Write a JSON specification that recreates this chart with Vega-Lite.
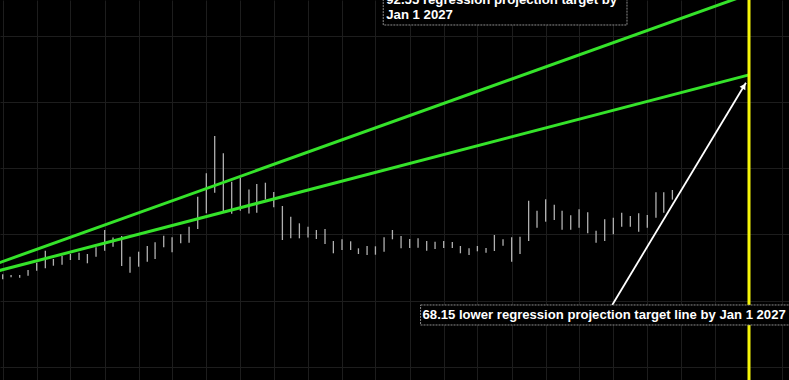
{
  "$schema": "https://vega.github.io/schema/vega-lite/v6.json",
  "width": 789,
  "height": 380,
  "padding": 0,
  "autosize": {"type": "none"},
  "background": "#000000",
  "config": {
    "view": {"stroke": null, "fill": "#000000"},
    "axis": {"labels": false, "ticks": false, "domain": false, "grid": true, "gridColor": "#1d1d1d", "gridWidth": 1, "gridOpacity": 1}
  },
  "datasets": {
    "bars": [
      {"date": "2019-09-01", "low": 6.43, "high": 7.94},
      {"date": "2019-10-01", "low": 7.03, "high": 7.72},
      {"date": "2019-11-01", "low": 6.91, "high": 7.72},
      {"date": "2019-12-01", "low": 7.51, "high": 9.23},
      {"date": "2020-01-01", "low": 9.02, "high": 11.44},
      {"date": "2020-02-01", "low": 9.75, "high": 15.06},
      {"date": "2020-03-01", "low": 10.53, "high": 12.55},
      {"date": "2020-04-01", "low": 10.83, "high": 13.46},
      {"date": "2020-05-01", "low": 12.25, "high": 14.06},
      {"date": "2020-06-01", "low": 12.25, "high": 14.46},
      {"date": "2020-07-01", "low": 11.26, "high": 14.06},
      {"date": "2020-08-01", "low": 13.25, "high": 16.08},
      {"date": "2020-09-01", "low": 15.06, "high": 21.31},
      {"date": "2020-10-01", "low": 16.27, "high": 19.05},
      {"date": "2020-11-01", "low": 10.44, "high": 19.5},
      {"date": "2020-12-01", "low": 8.42, "high": 13.25},
      {"date": "2021-01-01", "low": 10.23, "high": 14.76},
      {"date": "2021-02-01", "low": 11.74, "high": 16.48},
      {"date": "2021-03-01", "low": 12.55, "high": 17.6},
      {"date": "2021-04-01", "low": 16.08, "high": 19.59},
      {"date": "2021-05-01", "low": 14.58, "high": 19.11},
      {"date": "2021-06-01", "low": 17.29, "high": 20.01},
      {"date": "2021-07-01", "low": 17.48, "high": 22.31},
      {"date": "2021-08-01", "low": 21.61, "high": 31.37},
      {"date": "2021-09-01", "low": 26.35, "high": 38.43},
      {"date": "2021-10-01", "low": 32.57, "high": 49.69},
      {"date": "2021-11-01", "low": 26.83, "high": 44.47},
      {"date": "2021-12-01", "low": 26.23, "high": 35.89},
      {"date": "2022-01-01", "low": 27.11, "high": 37.07},
      {"date": "2022-02-01", "low": 26.26, "high": 33.51},
      {"date": "2022-03-01", "low": 26.53, "high": 35.2},
      {"date": "2022-04-01", "low": 30.49, "high": 35.59},
      {"date": "2022-05-01", "low": 28.17, "high": 32.78},
      {"date": "2022-06-01", "low": 18.29, "high": 28.56},
      {"date": "2022-07-01", "low": 18.8, "high": 25.32},
      {"date": "2022-08-01", "low": 18.8, "high": 23.33},
      {"date": "2022-09-01", "low": 19.05, "high": 22.31},
      {"date": "2022-10-01", "low": 18.59, "high": 21.31},
      {"date": "2022-11-01", "low": 17.08, "high": 21.61},
      {"date": "2022-12-01", "low": 14.28, "high": 17.99},
      {"date": "2023-01-01", "low": 15.27, "high": 18.5},
      {"date": "2023-02-01", "low": 15.27, "high": 17.9},
      {"date": "2023-03-01", "low": 14.06, "high": 15.78},
      {"date": "2023-04-01", "low": 13.76, "high": 16.48},
      {"date": "2023-05-01", "low": 13.85, "high": 16.39},
      {"date": "2023-06-01", "low": 14.76, "high": 19.11},
      {"date": "2023-07-01", "low": 18.5, "high": 21.31},
      {"date": "2023-08-01", "low": 15.78, "high": 19.5},
      {"date": "2023-09-01", "low": 15.88, "high": 18.59},
      {"date": "2023-10-01", "low": 15.97, "high": 18.8},
      {"date": "2023-11-01", "low": 15.06, "high": 17.99},
      {"date": "2023-12-01", "low": 15.57, "high": 17.78},
      {"date": "2024-01-01", "low": 15.88, "high": 17.99},
      {"date": "2024-02-01", "low": 15.88, "high": 17.69},
      {"date": "2024-03-01", "low": 14.28, "high": 16.48},
      {"date": "2024-04-01", "low": 13.76, "high": 15.78},
      {"date": "2024-05-01", "low": 14.88, "high": 16.48},
      {"date": "2024-06-01", "low": 14.46, "high": 15.88},
      {"date": "2024-07-01", "low": 14.97, "high": 19.8},
      {"date": "2024-08-01", "low": 16.57, "high": 18.5},
      {"date": "2024-09-01", "low": 11.74, "high": 19.11},
      {"date": "2024-10-01", "low": 14.06, "high": 19.29},
      {"date": "2024-11-01", "low": 17.99, "high": 30.16},
      {"date": "2024-12-01", "low": 22.0, "high": 27.14},
      {"date": "2025-01-01", "low": 23.82, "high": 30.58},
      {"date": "2025-02-01", "low": 24.33, "high": 28.92},
      {"date": "2025-03-01", "low": 21.4, "high": 27.11},
      {"date": "2025-04-01", "low": 21.4, "high": 25.75},
      {"date": "2025-05-01", "low": 22.0, "high": 27.56},
      {"date": "2025-06-01", "low": 20.31, "high": 26.66},
      {"date": "2025-07-01", "low": 17.48, "high": 21.1},
      {"date": "2025-08-01", "low": 17.99, "high": 24.54},
      {"date": "2025-09-01", "low": 20.01, "high": 25.02},
      {"date": "2025-10-01", "low": 22.31, "high": 26.53},
      {"date": "2025-11-01", "low": 22.31, "high": 25.54},
      {"date": "2025-12-01", "low": 20.8, "high": 26.35},
      {"date": "2026-01-01", "low": 22.0, "high": 25.84},
      {"date": "2026-02-01", "low": 25.02, "high": 32.69},
      {"date": "2026-03-01", "low": 26.53, "high": 32.69},
      {"date": "2026-04-01", "low": 30.49, "high": 33.39}
    ],
    "lines": [
      {"series": "upper", "date": "2019-08-01", "value": 10.86},
      {"series": "upper", "date": "2027-01-01", "value": 92.55},
      {"series": "lower", "date": "2019-08-01", "value": 8.64},
      {"series": "lower", "date": "2027-01-01", "value": 68.15}
    ],
    "target": [{"date": "2027-01-01"}],
    "arrow": [
      {"date": "2025-08-28", "value": -1.33, "order": 0},
      {"date": "2026-12-21", "value": 65.79, "order": 1}
    ],
    "arrowhead": [{"date": "2026-12-14", "value": 64.76}],
    "boxes": [
      {"name": "upper", "start": "2023-05-29", "end": "2025-10-20", "bottom": 83.21, "top": 100},
      {"name": "lower", "start": "2023-10-10", "end": "2027-12-01", "bottom": -7.37, "top": -1.33}
    ],
    "labels": [
      {"name": "upper", "date": "2023-05-29", "value": 89.4, "label": "92.55 regression projection target by\nJan 1 2027"},
      {"name": "lower", "date": "2023-10-10", "value": -4.35, "label": "68.15 lower regression projection target line by Jan 1 2027"}
    ]
  },
  "resolve": {"scale": {"x": "shared", "y": "shared"}},
  "layer": [
    {
      "data": {"name": "bars"},
      "mark": {"type": "rule", "color": "#b0b0b0", "strokeWidth": 1.3, "clip": true},
      "encoding": {
        "x": {"field": "date", "type": "temporal", "title": null,
              "scale": {"type": "utc", "domain": [{"year": 2019, "month": "Aug", "date": 22, "hours": 7, "utc": true}, {"year": 2027, "month": "May", "date": 24, "hours": 14, "utc": true}], "nice": false},
              "axis": {"title": null, "tickCount": {"interval": "month", "step": 4}, "labels": false, "ticks": false, "domain": false, "grid": true}},
        "y": {"field": "low", "type": "quantitative", "title": null,
              "scale": {"domain": [-23.98, 90.755], "nice": false, "zero": false},
              "axis": {"title": null, "values": [-20, -15, -10, -5, 0, 5, 10, 15, 20, 25, 30, 35, 40, 45, 50, 55, 60, 65, 70, 75, 80, 85, 90], "labels": false, "ticks": false, "domain": false, "grid": true}},
        "y2": {"field": "high"}
      }
    },
    {
      "data": {"name": "lines"},
      "mark": {"type": "line", "color": "#35e32a", "strokeWidth": 3, "clip": true},
      "encoding": {
        "x": {"field": "date", "type": "temporal", "title": null},
        "y": {"field": "value", "type": "quantitative", "title": null},
        "detail": {"field": "series"}
      }
    },
    {
      "data": {"name": "target"},
      "mark": {"type": "rule", "color": "#f5f50a", "strokeWidth": 3},
      "encoding": {
        "x": {"field": "date", "type": "temporal", "title": null}
      }
    },
    {
      "data": {"name": "arrow"},
      "mark": {"type": "line", "color": "#ffffff", "strokeWidth": 1.8, "clip": true},
      "encoding": {
        "x": {"field": "date", "type": "temporal", "title": null},
        "y": {"field": "value", "type": "quantitative", "title": null},
        "order": {"field": "order"}
      }
    },
    {
      "data": {"name": "arrowhead"},
      "mark": {"type": "point", "shape": "triangle-up", "filled": true, "color": "#ffffff", "size": 45, "angle": 31, "opacity": 1},
      "encoding": {
        "x": {"field": "date", "type": "temporal", "title": null},
        "y": {"field": "value", "type": "quantitative", "title": null}
      }
    },
    {
      "data": {"name": "boxes"},
      "mark": {"type": "rect", "fill": "#000000", "stroke": "#8c8c8c", "strokeWidth": 1, "strokeDash": [2, 1], "clip": true},
      "encoding": {
        "x": {"field": "start", "type": "temporal", "title": null},
        "x2": {"field": "end"},
        "y": {"field": "bottom", "type": "quantitative", "title": null},
        "y2": {"field": "top"}
      }
    },
    {
      "data": {"name": "labels"},
      "transform": [{"filter": "datum.name === 'upper'"}],
      "mark": {"type": "text", "align": "left", "baseline": "alphabetic", "dx": 3, "font": "Liberation Sans", "fontWeight": "bold", "fontSize": 13.2, "color": "#ffffff", "lineBreak": "\n", "lineHeight": 14.8, "clip": true},
      "encoding": {
        "x": {"field": "date", "type": "temporal", "title": null},
        "y": {"field": "value", "type": "quantitative", "title": null},
        "text": {"field": "label"}
      }
    },
    {
      "data": {"name": "labels"},
      "transform": [{"filter": "datum.name === 'lower'"}],
      "mark": {"type": "text", "align": "left", "baseline": "middle", "dx": 2, "font": "Liberation Sans", "fontWeight": "bold", "fontSize": 13.1, "color": "#ffffff"},
      "encoding": {
        "x": {"field": "date", "type": "temporal", "title": null},
        "y": {"field": "value", "type": "quantitative", "title": null},
        "text": {"field": "label"}
      }
    }
  ]
}
